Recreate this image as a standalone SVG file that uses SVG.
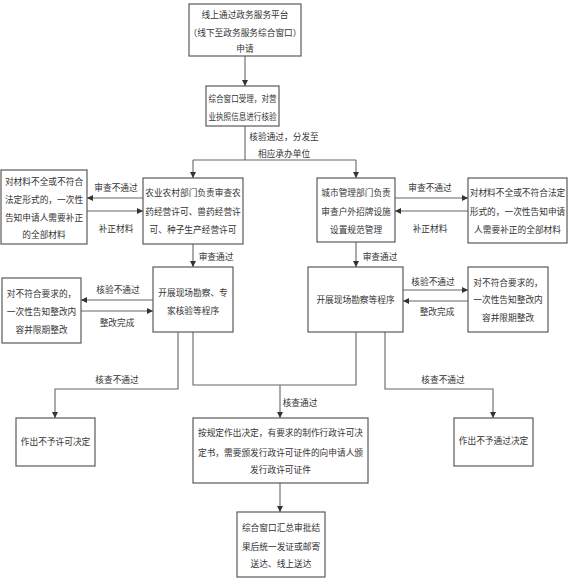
<svg xmlns="http://www.w3.org/2000/svg" width="570" height="578" viewBox="0 0 570 578">
<style>
.b{fill:#fff;stroke:#5a5a5a;stroke-width:1.2}
.t{font-family:"Noto Sans CJK SC","Liberation Sans",sans-serif;font-size:8.7px;fill:#333;text-anchor:middle}
.c{fill:none;stroke:#666;stroke-width:1.1}
</style>
<defs>
<marker id="a" viewBox="0 0 8 8" refX="8" refY="4" markerWidth="6" markerHeight="6" orient="auto" markerUnits="userSpaceOnUse">
<path d="M0,0 L8,4 L0,8 Z" fill="#333"/>
</marker>
</defs>
<rect width="570" height="578" fill="#fff"/>
<g id="connectors">
<path class="c" d="M245,56 V86" marker-end="url(#a)"/>
<path class="c" d="M245,126 V160"/>
<path class="c" d="M193,160 H356"/>
<path class="c" d="M193,160 V178" marker-end="url(#a)"/>
<path class="c" d="M356,160 V178" marker-end="url(#a)"/>
<path class="c" d="M143,198 H87" marker-end="url(#a)"/>
<path class="c" d="M87,211 H143" marker-end="url(#a)"/>
<path class="c" d="M193,244 V267" marker-end="url(#a)"/>
<path class="c" d="M153,300 H81" marker-end="url(#a)"/>
<path class="c" d="M81,311 H153" marker-end="url(#a)"/>
<path class="c" d="M178,332 V389 H55 V418" marker-end="url(#a)"/>
<path class="c" d="M193,332 V385 H356 V332"/>
<path class="c" d="M280,385 V418" marker-end="url(#a)"/>
<path class="c" d="M385,332 V389 H493 V418" marker-end="url(#a)"/>
<path class="c" d="M395,198 H468" marker-end="url(#a)"/>
<path class="c" d="M468,211 H395" marker-end="url(#a)"/>
<path class="c" d="M356,242 V267" marker-end="url(#a)"/>
<path class="c" d="M403,290 H468" marker-end="url(#a)"/>
<path class="c" d="M468,301 H403" marker-end="url(#a)"/>
<path class="c" d="M280,483 V512" marker-end="url(#a)"/>
<text class="t" x="284" y="140">核验通过，分发至</text>
<text class="t" x="284" y="157">相应承办单位</text>
<text class="t" x="116" y="191">审查不通过</text>
<text class="t" x="116" y="232">补正材料</text>
<text class="t" x="216" y="260">审查通过</text>
<text class="t" x="118" y="293">核验不通过</text>
<text class="t" x="117" y="326">整改完成</text>
<text class="t" x="117" y="383">核查不通过</text>
<text class="t" x="300" y="406">核查通过</text>
<text class="t" x="443" y="383">核查不通过</text>
<text class="t" x="430" y="191">审查不通过</text>
<text class="t" x="430" y="232">补正材料</text>
<text class="t" x="380" y="260">审查通过</text>
<text class="t" x="433" y="285">核验不通过</text>
<text class="t" x="437" y="315">整改完成</text>
</g>
<g id="n1"><rect class="b" x="189" y="4" width="112" height="52"/>
<text class="t" x="245" y="18">线上通过政务服务平台</text>
<text class="t" x="245" y="36">（线下至政务服务综合窗口）</text>
<text class="t" x="245" y="52">申请</text></g>
<g id="n2"><rect class="b" x="206" y="86" width="73" height="40"/>
<text class="t" x="242.5" y="102" textLength="68" lengthAdjust="spacingAndGlyphs">综合窗口受理，对营</text>
<text class="t" x="242.5" y="120" textLength="68" lengthAdjust="spacingAndGlyphs">业执照信息进行核验</text></g>
<g id="n3"><rect class="b" x="1" y="170" width="86" height="74"/>
<text class="t" x="44" y="185">对材料不全或不符合</text>
<text class="t" x="44" y="203">法定形式的，一次性</text>
<text class="t" x="44" y="221">告知申请人需要补正</text>
<text class="t" x="44" y="238">的全部材料</text></g>
<g id="n4"><rect class="b" x="143" y="178" width="100" height="66"/>
<text class="t" x="193" y="196">农业农村部门负责审查农</text>
<text class="t" x="193" y="215">药经营许可、兽药经营许</text>
<text class="t" x="193" y="233">可、种子生产经营许可</text></g>
<g id="n5"><rect class="b" x="317" y="178" width="78" height="64"/>
<text class="t" x="356" y="196">城市管理部门负责</text>
<text class="t" x="356" y="215">审查户外招牌设施</text>
<text class="t" x="356" y="233">设置规范管理</text></g>
<g id="n6"><rect class="b" x="468" y="178" width="99" height="65"/>
<text class="t" x="517.5" y="196">对材料不全或不符合法定</text>
<text class="t" x="517.5" y="215">形式的，一次性告知申请</text>
<text class="t" x="517.5" y="233">人需要补正的全部材料</text></g>
<g id="n7"><rect class="b" x="2" y="278" width="79" height="65"/>
<text class="t" x="41.5" y="297">对不符合要求的，</text>
<text class="t" x="41.5" y="315">一次性告知整改内</text>
<text class="t" x="41.5" y="333">容并限期整改</text></g>
<g id="n8"><rect class="b" x="153" y="267" width="80" height="65"/>
<text class="t" x="193" y="296">开展现场勘察、专</text>
<text class="t" x="193" y="314">家核验等程序</text></g>
<g id="n9"><rect class="b" x="308" y="267" width="95" height="65"/>
<text class="t" x="355.5" y="303">开展现场勘察等程序</text></g>
<g id="n10"><rect class="b" x="468" y="267" width="80" height="65"/>
<text class="t" x="508" y="286">对不符合要求的，</text>
<text class="t" x="508" y="303">一次性告知整改内</text>
<text class="t" x="508" y="321">容并限期整改</text></g>
<g id="n11"><rect class="b" x="16" y="418" width="79" height="48"/>
<text class="t" x="55.5" y="445">作出不予许可决定</text></g>
<g id="n12"><rect class="b" x="454" y="418" width="79" height="48"/>
<text class="t" x="493.5" y="444">作出不予通过决定</text></g>
<g id="n13"><rect class="b" x="193" y="418" width="175" height="65"/>
<text class="t" x="280.5" y="436">按规定作出决定，有要求的制作行政许可决</text>
<text class="t" x="280.5" y="456">定书，需要颁发行政许可证件的向申请人颁</text>
<text class="t" x="280.5" y="473">发行政许可证件</text></g>
<g id="n14"><rect class="b" x="237" y="512" width="88" height="65"/>
<text class="t" x="281" y="531">综合窗口汇总审批结</text>
<text class="t" x="281" y="550">果后统一发证或邮寄</text>
<text class="t" x="281" y="567">送达、线上送达</text></g>
</svg>
